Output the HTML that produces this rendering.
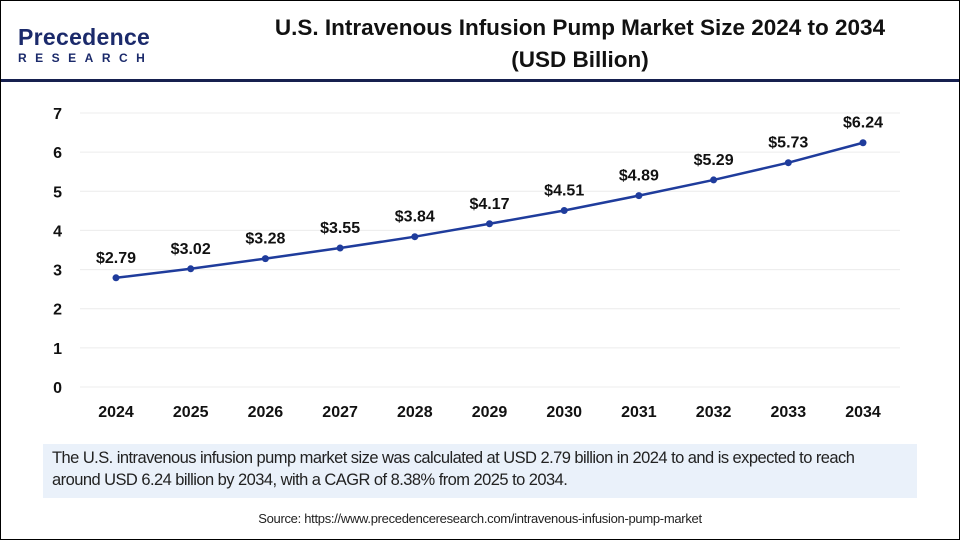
<!DOCTYPE html>
<html><head><meta charset="utf-8"><style>
body{margin:0;width:960px;height:540px;overflow:hidden;background:#fff;font-family:"Liberation Sans",sans-serif;}
#frame{position:absolute;left:0;top:0;width:958px;height:538px;border:1px solid #000;}
</style></head><body>
<div id="frame"></div>
<div style="position:absolute;left:18px;top:24px;">
 <div style="font-size:23px;color:#1b2a6b;font-weight:bold;letter-spacing:0.3px;line-height:26px;">Precedence</div>
 <div style="font-size:12px;color:#1b2a6b;font-weight:bold;letter-spacing:8.5px;line-height:16px;">RESEARCH</div>
</div>
<div style="position:absolute;left:200px;width:760px;top:12px;text-align:center;font-size:22.5px;font-weight:bold;color:#111;line-height:32px;">U.S. Intravenous Infusion Pump Market Size 2024 to 2034<br>(USD Billion)</div>
<div style="position:absolute;left:1px;top:79px;width:958px;height:3px;background:#16204f;"></div>
<svg id="chart" width="960" height="440" style="position:absolute;left:0;top:0"></svg>
<div style="position:absolute;left:43px;top:444px;width:874px;height:54px;background:#eaf1fa;"></div>
<div style="position:absolute;left:52px;top:447px;width:860px;font-size:16.5px;line-height:22px;color:#222;letter-spacing:-0.55px;white-space:nowrap;">The U.S. intravenous infusion pump market size was calculated at USD 2.79 billion in 2024 to and is expected to reach<br>around USD 6.24 billion by 2034, with a CAGR of 8.38% from 2025 to 2034.</div>
<div style="position:absolute;left:0;width:960px;top:511px;text-align:center;font-size:13px;color:#222;letter-spacing:-0.3px;">Source: https://www.precedenceresearch.com/intravenous-infusion-pump-market</div>
<script>
const years=["2024","2025","2026","2027","2028","2029","2030","2031","2032","2033","2034"];
const values=[2.79,3.02,3.28,3.55,3.84,4.17,4.51,4.89,5.29,5.73,6.24];
const labels=["$2.79","$3.02","$3.28","$3.55","$3.84","$4.17","$4.51","$4.89","$5.29","$5.73","$6.24"];
const yTicks=[0,1,2,3,4,5,6,7];
const svg=document.getElementById('chart');
const NS='http://www.w3.org/2000/svg';
const x=i=>116+i*(863-116)/(years.length-1);
const y=v=>387-v*(387-113)/7;
function mk(t,a){const e=document.createElementNS(NS,t);for(const k in a)e.setAttribute(k,a[k]);svg.appendChild(e);return e;}
yTicks.forEach(t=>{
 const g=mk('line',{x1:80,x2:900,y1:y(t),y2:y(t),stroke:'#ececec','stroke-width':1});
 
 
 const l=mk('text',{x:62,y:y(t)+6,'text-anchor':'end','font-size':16,'font-weight':'bold',fill:'#111'});
 l.textContent=t;
 
 
});
years.forEach((yr,i)=>{
 const l=mk('text',{x:x(i),y:417,'text-anchor':'middle','font-size':16,'font-weight':'bold',fill:'#111'});
 l.textContent=yr;
 
 
});
const p=mk('polyline',{points:values.map((v,i)=>x(i)+','+y(v)).join(' '),fill:'none',stroke:'#1f3c9c','stroke-width':2.5});


values.forEach((v,i)=>{
 const c=mk('circle',{cx:x(i),cy:y(v),r:3.5,fill:'#1f3c9c'});
 
 
 const t=mk('text',{x:x(i),y:y(v)-15,'text-anchor':'middle','font-size':16,'font-weight':'bold',fill:'#111'});
 t.textContent=labels[i];
 
 
});
</script>
</body></html>
